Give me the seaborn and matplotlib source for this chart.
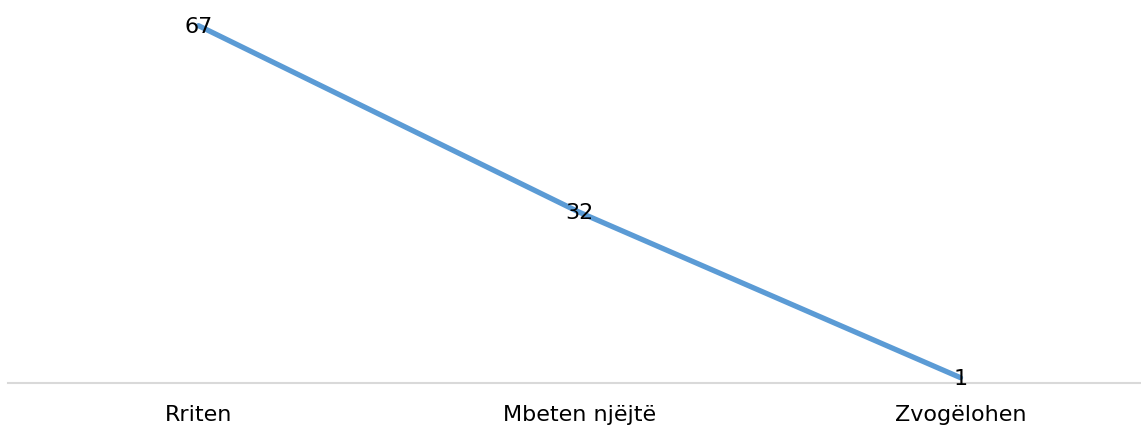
import pandas as pd
import seaborn as sns
import matplotlib
matplotlib.use('Agg')
import matplotlib.pyplot as plt

categories = ['Rriten', 'Mbeten njëjtë', 'Zvogëlohen']
values = [67, 32, 1]

sns.set_style('white')
plt.rcParams['font.family'] = ['DejaVu Sans']

df = pd.DataFrame({'cat': categories, 'val': values})

fig = plt.figure(figsize=(11.41, 4.35), dpi=100)
ax = fig.add_axes([8 / 1141, 51 / 435, 1143 / 1141, 384 / 435])

sns.lineplot(data=df, x='cat', y='val', ax=ax, color='#5B9BD5', linewidth=3.8,
             sort=False, clip_on=False)

# data labels centred on the points
for i, v in enumerate(values):
    ax.text(i, v, str(v), ha='center', va='center', fontsize=16, color='black',
            clip_on=False)

ax.set_xlim(-0.5, 2.5)
ax.set_ylim(0, 72)
ax.set_yticks([])
ax.set_xlabel('')
ax.set_ylabel('')
ax.tick_params(axis='x', length=0, pad=15, labelsize=16, colors='black')

for s in ['top', 'right', 'left']:
    ax.spines[s].set_visible(False)
ax.spines['bottom'].set_color('#D9D9D9')
ax.spines['bottom'].set_linewidth(1.5)

fig.savefig('out.png', dpi=100)
